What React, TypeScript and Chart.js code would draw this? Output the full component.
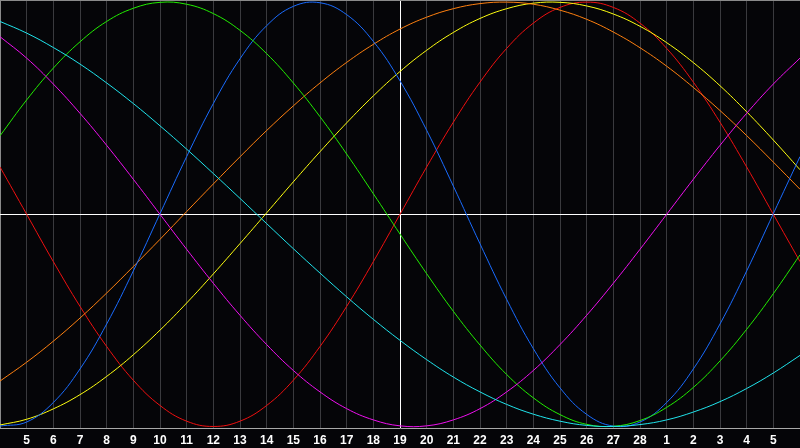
import React, { useEffect, useRef } from "react";
import { Chart, registerables } from "chart.js";

Chart.register(...registerables);

const DAY_LABELS = [
  "4", "5", "6", "7", "8", "9", "10", "11", "12", "13", "14", "15", "16", "17", "18", "19",
  "20", "21", "22", "23", "24", "25", "26", "27", "28", "1", "2", "3", "4", "5", "6",
];

const RED = [0.223, 0, -0.223, -0.434, -0.623, -0.782, -0.901, -0.975, -1, -0.975, -0.901, -0.782, -0.623, -0.434, -0.223, 0, 0.223, 0.434, 0.623, 0.782, 0.901, 0.975, 1, 0.975, 0.901, 0.782, 0.623, 0.434, 0.223, 0, -0.223];
const GREEN = [0.37, 0.539, 0.689, 0.813, 0.909, 0.971, 0.999, 0.99, 0.946, 0.867, 0.757, 0.619, 0.46, 0.284, 0.097, -0.093, -0.28, -0.457, -0.616, -0.755, -0.865, -0.944, -0.99, -0.999, -0.972, -0.91, -0.816, -0.691, -0.542, -0.374, -0.191];
const BLUE = [-0.998, -0.979, -0.887, -0.729, -0.517, -0.267, 0.003, 0.272, 0.522, 0.733, 0.889, 0.98, 0.997, 0.941, 0.815, 0.629, 0.396, 0.133, -0.139, -0.401, -0.633, -0.818, -0.943, -0.998, -0.979, -0.887, -0.729, -0.517, -0.267, 0.003, 0.272];
const CYAN = [0.909, 0.854, 0.786, 0.708, 0.619, 0.522, 0.417, 0.307, 0.192, 0.075, -0.044, -0.162, -0.277, -0.389, -0.495, -0.594, -0.685, -0.767, -0.837, -0.896, -0.942, -0.975, -0.995, -1, -0.991, -0.969, -0.932, -0.883, -0.821, -0.748, -0.665];
const MAGENTA = [0.837, 0.736, 0.614, 0.476, 0.325, 0.165, 0, -0.165, -0.325, -0.476, -0.614, -0.736, -0.837, -0.916, -0.969, -0.997, -0.997, -0.969, -0.916, -0.837, -0.736, -0.614, -0.476, -0.325, -0.165, 0, 0.165, 0.325, 0.476, 0.614, 0.736];
const ORANGE = [-0.786, -0.697, -0.598, -0.489, -0.371, -0.246, -0.118, 0.013, 0.143, 0.271, 0.395, 0.511, 0.619, 0.716, 0.801, 0.873, 0.929, 0.969, 0.993, 1, 0.99, 0.962, 0.919, 0.859, 0.785, 0.698, 0.598, 0.489, 0.371, 0.246, 0.118];
const YELLOW = [-0.993, -0.966, -0.917, -0.85, -0.764, -0.662, -0.546, -0.418, -0.281, -0.138, 0.007, 0.153, 0.295, 0.431, 0.558, 0.673, 0.773, 0.857, 0.923, 0.969, 0.995, 0.999, 0.982, 0.944, 0.886, 0.809, 0.715, 0.606, 0.483, 0.35, 0.21];

const TODAY_INDEX = 15;

const bgPlugin = {
  id: "bg",
  beforeDraw(chart: any) {
    const { ctx, width, height } = chart;
    ctx.save();
    ctx.fillStyle = "#050508";
    ctx.fillRect(0, 0, width, height);
    ctx.restore();
  },
  beforeDatasetsDraw(chart: any) {
    const { ctx, chartArea, scales } = chart;
    ctx.save();
    ctx.lineWidth = 1;
    ctx.strokeStyle = "#8a8a8a";
    ctx.beginPath();
    ctx.moveTo(chartArea.left, chartArea.top + 0.5);
    ctx.lineTo(chartArea.right, chartArea.top + 0.5);
    ctx.stroke();
    const y0 = Math.round(scales.y.getPixelForValue(0)) + 0.5;
    ctx.strokeStyle = "#ffffff";
    ctx.beginPath();
    ctx.moveTo(chartArea.left, y0);
    ctx.lineTo(chartArea.right, y0);
    ctx.stroke();
    ctx.restore();
  },
};

export default function App() {
  const ref = useRef<HTMLCanvasElement>(null);
  useEffect(() => {
    if (!ref.current) return;
    const mk = (data: number[], color: string) => ({
      data,
      borderColor: color,
      borderWidth: 1,
      pointRadius: 0,
      pointHoverRadius: 0,
      fill: false,
      tension: 0.4,
    });
    const chart = new Chart(ref.current, {
      type: "line",
      data: {
        labels: DAY_LABELS,
        datasets: [
          mk(CYAN, "#20e4ec"),
          mk(MAGENTA, "#f010f0"),
          mk(GREEN, "#22ee00"),
          mk(BLUE, "#1a6cff"),
          mk(ORANGE, "#ff8010"),
          mk(YELLOW, "#ffff10"),
          mk(RED, "#f01010"),
        ],
      },
      options: {
        animation: false,
        responsive: false,
        devicePixelRatio: 1,
        layout: { autoPadding: false, padding: 0 },
        plugins: { legend: { display: false }, tooltip: { enabled: false } },
        scales: {
          x: {
            type: "category",
            offset: false,
            border: { display: true, color: "#a8a8a8", width: 1 },
            grid: {
              drawTicks: true,
              tickLength: 5,
              tickColor: "rgba(0,0,0,0)",
              lineWidth: 1,
              color: (c: any) => {
                const i = c.index;
                if (i === TODAY_INDEX) return "#ffffff";
                if (i === 0) return "#8a8a8a";
                if (i === DAY_LABELS.length - 1) return "rgba(0,0,0,0)";
                return "#3a3a3e";
              },
            },
            ticks: {
              autoSkip: false,
              maxRotation: 0,
              padding: 0,
              color: "#ffffff",
              font: { family: "'Liberation Sans', Arial, sans-serif", size: 12, weight: "bold", lineHeight: 1.2 },
              callback: (_v: any, i: number) =>
                i === 0 || i === DAY_LABELS.length - 1 ? "" : DAY_LABELS[i],
            },
          },
          y: {
            display: false,
            min: -1.01,
            max: 1.01,
          },
        },
      },
      plugins: [bgPlugin],
    });
    return () => chart.destroy();
  }, []);
  return (
    <div style={{ position: "fixed", left: 0, top: 0, width: 800, height: 448, background: "#050508" }}>
      <canvas ref={ref} width={800} height={448} style={{ display: "block", width: 800, height: 448 }} />
    </div>
  );
}
